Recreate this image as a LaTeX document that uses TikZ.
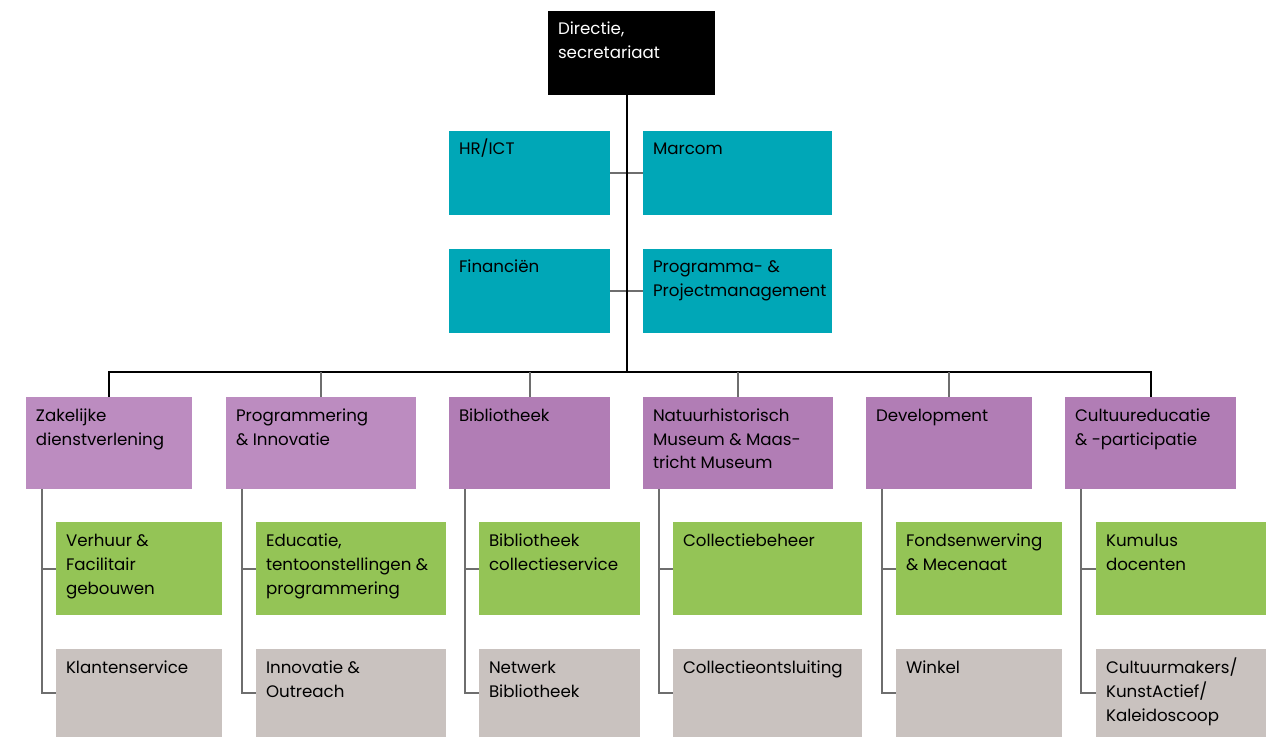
\documentclass[tikz,border=0pt]{standalone}
\usepackage{fontspec}
\setmainfont{Poppins}
\newlength\pu \setlength\pu{0.75pt}
\newcommand\bt[3]{\parbox[c][#2\pu][t]{#1\pu}{\fontsize{12.5}{18}\selectfont\raggedright\leftskip=10\pu\rule{0pt}{24\pu}#3\par}}
\definecolor{cteal}{RGB}{0,167,183}
\definecolor{cpurA}{RGB}{188,140,192}
\definecolor{cpurB}{RGB}{177,125,181}
\definecolor{cgreen}{RGB}{148,196,86}
\definecolor{cgray}{RGB}{201,194,191}
\definecolor{cline}{RGB}{110,110,110}
\tikzset{
  bx/.style={anchor=north west, inner sep=0pt, outer sep=0pt},
  blk/.style={draw=black, line width=1.5pt},
  gry/.style={draw=cline, line width=1.5pt},
}
\begin{document}
\begin{tikzpicture}[x=0.75pt, y=-0.75pt]
\useasboundingbox (0,0) rectangle (1277,737);
% connectors first (behind boxes)
\coordinate (bus) at (627,372);
% top
\node[bx, fill=black, text=white] (dir) at (548,11) {\bt{167}{84}{Directie,\\secretariaat}};
\node[bx, fill=cteal] (hr) at (449,131) {\bt{161}{84}{HR/ICT}};
\node[bx, fill=cteal] (mc) at (643,131) {\bt{189}{84}{Marcom}};
\node[bx, fill=cteal] (fin) at (449,249) {\bt{161}{84}{Financiën}};
\node[bx, fill=cteal] (pp) at (643,249) {\bt{189}{84}{Programma- \&\\Projectmanagement}};
% departments
\node[bx, fill=cpurA] (p1) at (26,397) {\bt{166}{92}{Zakelijke\\dienstverlening}};
\node[bx, fill=cpurA] (p2) at (226,397) {\bt{190}{92}{Programmering\\\& Innovatie}};
\node[bx, fill=cpurB] (p3) at (449,397) {\bt{161}{92}{Bibliotheek}};
\node[bx, fill=cpurB] (p4) at (643,397) {\bt{190}{92}{Natuurhistorisch\\Museum \& Maas-\\tricht Museum}};
\node[bx, fill=cpurB] (p5) at (866,397) {\bt{166}{92}{Development}};
\node[bx, fill=cpurB] (p6) at (1065,397) {\bt{171}{92}{Cultuureducatie\\\& -participatie}};
% green
\node[bx, fill=cgreen] (g1) at (56,522) {\bt{166}{93}{Verhuur \&\\Facilitair\\gebouwen}};
\node[bx, fill=cgreen] (g2) at (256,522) {\bt{190}{93}{Educatie,\\tentoonstellingen \&\\programmering}};
\node[bx, fill=cgreen] (g3) at (479,522) {\bt{161}{93}{Bibliotheek\\collectieservice}};
\node[bx, fill=cgreen] (g4) at (673,522) {\bt{189}{93}{Collectiebeheer}};
\node[bx, fill=cgreen] (g5) at (896,522) {\bt{166}{93}{Fondsenwerving\\\& Mecenaat}};
\node[bx, fill=cgreen] (g6) at (1096,522) {\bt{170}{93}{Kumulus\\docenten}};
% gray
\node[bx, fill=cgray] (k1) at (56,649) {\bt{166}{88}{Klantenservice}};
\node[bx, fill=cgray] (k2) at (256,649) {\bt{190}{88}{Innovatie \&\\Outreach}};
\node[bx, fill=cgray] (k3) at (479,649) {\bt{161}{88}{Netwerk\\Bibliotheek}};
\node[bx, fill=cgray] (k4) at (673,649) {\bt{189}{88}{Collectieontsluiting}};
\node[bx, fill=cgray] (k5) at (896,649) {\bt{166}{88}{Winkel}};
\node[bx, fill=cgray] (k6) at (1096,649) {\bt{170}{88}{Cultuurmakers/\\KunstActief/\\Kaleidoscoop}};
% connectors
\draw[gry] (hr.east) -- (mc.west);
\draw[gry] (fin.east) -- (pp.west);
\draw[blk] (dir.south -| bus) -- (bus);
\draw[blk] (p1.north) |- (bus) -| (p6.north);
\foreach \i in {2,3,4,5} {\draw[gry] (p\i.north) -- (p\i.north |- bus);}
\foreach \i in {1,...,6} {
  \coordinate (s\i) at ([xshift=16\pu]p\i.south west);
  \draw[gry] (s\i) |- (k\i.west);
  \draw[gry] (s\i |- g\i.west) -- (g\i.west);
}
\end{tikzpicture}
\end{document}
